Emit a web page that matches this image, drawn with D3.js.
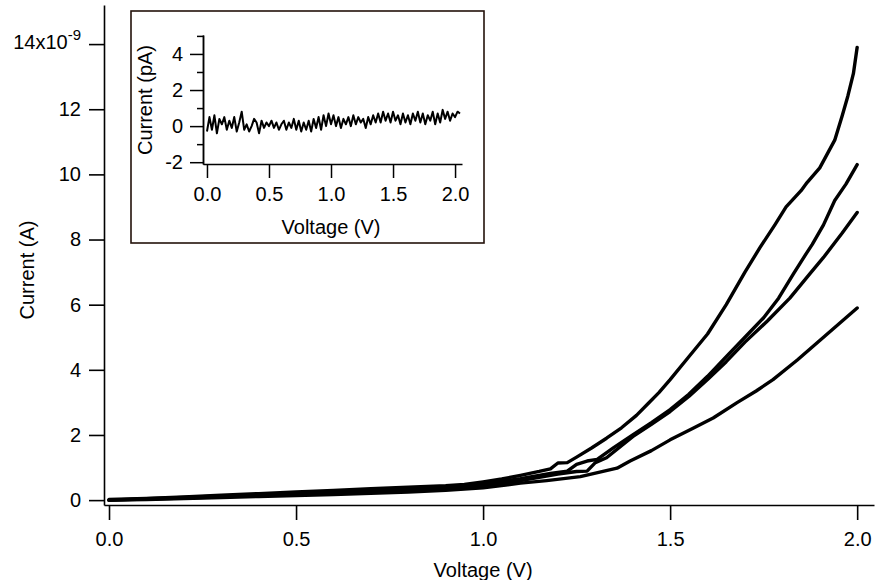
<!DOCTYPE html>
<html>
<head>
<meta charset="utf-8">
<script src="https://cdn.jsdelivr.net/npm/d3@7"></script>
<style>
body { margin: 0; background: #fff; }
svg { display: block; font-family: "Liberation Sans", Arial, sans-serif; }
</style>
</head>
<body>
<svg id="chart" width="876" height="580"></svg>
<script>
// main I-V sweeps, [voltage (V), current (x1e-9 A)]
const sweepA = [[0,0.02],[0.1,0.05],[0.2,0.1],[0.3,0.15],[0.4,0.2],[0.5,0.25],[0.6,0.3],[0.7,0.35],[0.8,0.4],[0.9,0.44],[0.95,0.48],[1.0,0.56],[1.05,0.65],[1.1,0.76],[1.15,0.88],[1.18,0.96],[1.2,1.14],[1.225,1.15],[1.25,1.32],[1.29,1.6],[1.33,1.9],[1.37,2.22],[1.41,2.6],[1.44,2.95],[1.47,3.3],[1.5,3.7],[1.55,4.4],[1.6,5.1],[1.65,6.0],[1.7,7.0],[1.74,7.75],[1.78,8.45],[1.81,9.0],[1.85,9.5],[1.866,9.75],[1.9,10.2],[1.94,11.05],[1.96,11.8],[1.975,12.4],[1.99,13.1],[2.0,13.9]];
const sweepB = [[0,0],[0.1,0.04],[0.2,0.08],[0.3,0.13],[0.4,0.17],[0.5,0.22],[0.6,0.26],[0.7,0.31],[0.8,0.35],[0.9,0.4],[1.0,0.5],[1.1,0.66],[1.18,0.82],[1.225,0.89],[1.25,1.1],[1.278,1.2],[1.305,1.25],[1.35,1.62],[1.4,2.0],[1.45,2.38],[1.5,2.78],[1.55,3.25],[1.6,3.8],[1.65,4.4],[1.7,5.0],[1.75,5.6],[1.79,6.2],[1.83,6.95],[1.86,7.5],[1.88,7.85],[1.91,8.45],[1.94,9.2],[1.97,9.7],[2.0,10.3]];
const sweepC = [[0,0],[0.1,0.03],[0.2,0.06],[0.3,0.1],[0.4,0.14],[0.5,0.18],[0.6,0.22],[0.7,0.26],[0.8,0.3],[0.9,0.35],[1.0,0.44],[1.1,0.6],[1.2,0.8],[1.25,0.88],[1.278,0.89],[1.3,1.15],[1.33,1.3],[1.4,1.95],[1.45,2.33],[1.5,2.72],[1.55,3.18],[1.6,3.7],[1.65,4.25],[1.7,4.85],[1.76,5.5],[1.82,6.2],[1.87,6.9],[1.91,7.45],[1.96,8.2],[2.0,8.83]];
const sweepD = [[0,0],[0.1,0.02],[0.2,0.05],[0.3,0.08],[0.4,0.11],[0.5,0.14],[0.6,0.17],[0.7,0.21],[0.8,0.25],[0.9,0.3],[1.0,0.38],[1.1,0.52],[1.17,0.6],[1.26,0.72],[1.358,0.98],[1.393,1.2],[1.45,1.52],[1.5,1.85],[1.56,2.2],[1.615,2.52],[1.68,3.0],[1.73,3.35],[1.775,3.7],[1.84,4.3],[1.9,4.9],[1.95,5.4],[2.0,5.9]];

// inset trace: current (pA) sampled every 0.02 V from 0 V
const insetCurrent = [
  -0.3, 0.5, -0.2, 0.6, -0.4, 0.4, 0.1, 0.5, -0.2, 0.3,
  -0.1, 0.5, -0.3, 0.2, 0.8, -0.2, 0.1, -0.3, 0.0, 0.4,
  0.2, -0.4, 0.3, -0.1, 0.2, 0.0, 0.3, -0.1, 0.2, -0.2,
  0.1, 0.3, -0.2, 0.2, -0.1, 0.4, -0.2, 0.3, -0.3, 0.2,
  -0.2, 0.3, -0.3, 0.4, -0.1, 0.5, -0.2, 0.6, 0.0, 0.7,
  0.1, 0.6, 0.0, 0.5, -0.1, 0.4, 0.1, 0.5, 0.0, 0.6,
  0.1, 0.5, 0.2, 0.4, -0.1, 0.5, 0.1, 0.6, 0.2, 0.7,
  0.2, 0.8, 0.3, 0.7, 0.2, 0.8, 0.3, 0.6, 0.1, 0.7,
  0.2, 0.6, 0.1, 0.7, 0.3, 0.8, 0.2, 0.7, 0.1, 0.6,
  0.3, 0.8, 0.1, 0.7, 0.2, 0.9, 0.4, 0.8, 0.3, 0.7,
  0.5, 0.8, 0.7
];
const insetStep = 0.02;

const xTicks = [0, 0.5, 1.0, 1.5, 2.0];
const yTicks = [0, 2, 4, 6, 8, 10, 12, 14];
const insetYTicks = [-2, 0, 2, 4];
const insetYMinor = [-1, 1, 3, 5];

const svg = d3.select("#chart");
const ink = "#000";
const fs = 20;

let x = d3.scaleLinear().domain([-0.0134, 2.045]).range([104, 874]);
let y = d3.scaleLinear().domain([-0.15, 15.2]).range([505, 5]);

// axes
let gx = svg.append("g")
    .attr("transform", "translate(0,505)")
    .call(d3.axisBottom(x).tickValues(xTicks).tickFormat(d3.format(".1f"))
        .tickSize(15).tickPadding(12).tickSizeOuter(0));
let gy = svg.append("g")
    .attr("transform", "translate(104,0)")
    .call(d3.axisLeft(y).tickValues(yTicks).tickFormat(d => String(d))
        .tickSize(15).tickPadding(8).tickSizeOuter(0));

[gx, gy].forEach(g => {
    g.selectAll("path, line").attr("stroke", ink).attr("stroke-width", 1.6);
    g.selectAll("text").attr("font-size", fs).attr("fill", ink);
});

// top tick gets the exponent
gy.selectAll(".tick text").filter(d => d === 14)
    .attr("dy", "0.2em")
    .text("14x10")
    .append("tspan").attr("dy", "-0.6em").attr("font-size", 15).text("-9");

svg.append("text")
    .attr("x", x(1.0)).attr("y", 577)
    .attr("text-anchor", "middle").attr("font-size", fs)
    .text("Voltage (V)");
svg.append("text")
    .attr("transform", "translate(34,270) rotate(-90)")
    .attr("text-anchor", "middle").attr("font-size", fs)
    .text("Current (A)");

let line = d3.line()
    .x(d => x(d[0]))
    .y(d => y(d[1]));

svg.selectAll(".sweep")
    .data([sweepD, sweepC, sweepB, sweepA])
    .enter()
    .append("path")
    .attr("class", "sweep")
    .attr("d", line)
    .attr("fill", "none")
    .attr("stroke", ink)
    .attr("stroke-width", 3.4)
    .attr("stroke-linejoin", "round")
    .attr("stroke-linecap", "round");

// inset
let inset = svg.append("g");
inset.append("rect")
    .attr("x", 131).attr("y", 11).attr("width", 353).attr("height", 232)
    .attr("fill", "#fff").attr("stroke", "#24120a").attr("stroke-width", 1.6);

let ix = d3.scaleLinear().domain([-0.032, 2.056]).range([203, 462]);
let iy = d3.scaleLinear().domain([-2.1, 5.05]).range([164, 35]);

let igx = inset.append("g")
    .attr("transform", "translate(0,164)")
    .call(d3.axisBottom(ix).tickValues(xTicks).tickFormat(d3.format(".1f"))
        .tickSize(14).tickPadding(9).tickSizeOuter(0));
let igy = inset.append("g")
    .attr("transform", "translate(203,0)")
    .call(d3.axisLeft(iy).tickValues(insetYTicks).tickFormat(d => String(d))
        .tickSize(13).tickPadding(7).tickSizeOuter(0));
let igm = inset.append("g")
    .attr("transform", "translate(203,0)")
    .call(d3.axisLeft(iy).tickValues(insetYMinor).tickFormat("")
        .tickSize(6).tickSizeOuter(0));

[igx, igy, igm].forEach(g => {
    g.selectAll("path, line").attr("stroke", ink).attr("stroke-width", 1.5);
    g.selectAll("text").attr("font-size", fs).attr("fill", ink);
});

inset.append("text")
    .attr("x", ix(1.0)).attr("y", 234)
    .attr("text-anchor", "middle").attr("font-size", fs)
    .text("Voltage (V)");
inset.append("text")
    .attr("transform", "translate(152,100) rotate(-90)")
    .attr("text-anchor", "middle").attr("font-size", fs)
    .text("Current (pA)");

let insetLine = d3.line()
    .x((d, i) => ix(i * insetStep))
    .y(d => iy(d));

inset.append("path")
    .datum(insetCurrent)
    .attr("d", insetLine)
    .attr("fill", "none")
    .attr("stroke", ink)
    .attr("stroke-width", 2)
    .attr("stroke-linejoin", "round");
</script>
</body>
</html>
